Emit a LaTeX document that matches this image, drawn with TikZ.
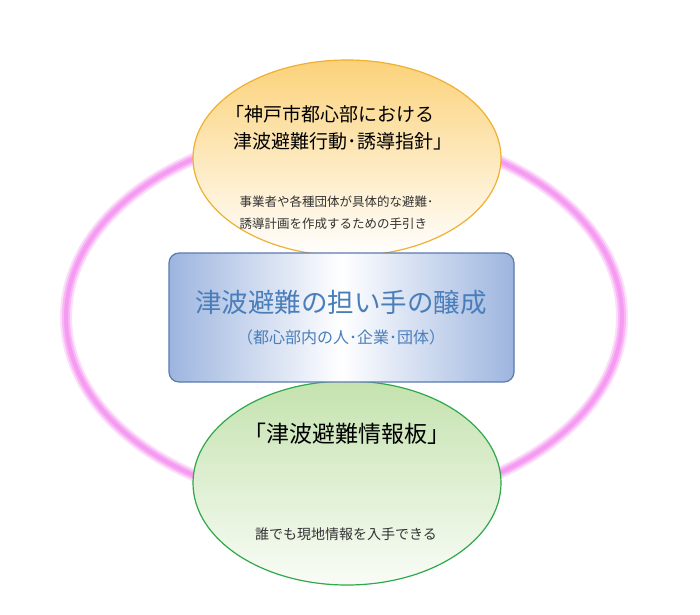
\documentclass[tikz,border=0pt]{standalone}
\usepackage{fontspec}
\setmainfont{Noto Sans CJK JP}
\usetikzlibrary{shapes.geometric}
\definecolor{ringpink}{HTML}{F490F0}
\definecolor{ylw}{HTML}{FBD27A}
\definecolor{ylwline}{HTML}{F0B030}
\definecolor{grn}{HTML}{C4E2AE}
\definecolor{grnline}{HTML}{2EA84A}
\definecolor{blu}{HTML}{9DB5DF}
\definecolor{bluline}{HTML}{5A7AB0}
\definecolor{bluetext}{HTML}{4A7EBB}
\tikzset{
  oval/.style={ellipse, minimum width=308pt, inner sep=0pt, line width=1.2pt},
  ttl/.style={font=\fontsize{19}{27}\selectfont, align=left, anchor=north west},
  sub/.style={font=\fontsize{12.5}{22}\selectfont, text=black!80, align=left, anchor=north west},
}
\begin{document}
\begin{tikzpicture}[x=1pt,y=-1pt]
\useasboundingbox (0,0) rectangle (700,614);
\fill[white] (0,0) rectangle (700,614);
\draw[ringpink!30, line width=12pt] (344,317) ellipse [x radius=278, y radius=188];
\draw[ringpink!65, line width=8pt] (344,317) ellipse [x radius=278, y radius=188];
\draw[ringpink!90, line width=4pt] (344,317) ellipse [x radius=278, y radius=188];
\node[oval, minimum height=196pt, draw=ylwline, top color=ylw, bottom color=white] (top) at (347,158) {};
\node[oval, minimum height=204pt, draw=grnline, top color=grn, bottom color=white!90!grn] (bot) at (347,483) {};
\node[draw=bluline, line width=1.2pt, rounded corners=10pt, minimum width=345pt, minimum height=129pt, inner sep=0pt, left color=blu, right color=blu, middle color=white] (mid) at (341.5,317.5) {};
\node[ttl] (t1) at (222,102) {「神戸市都心部における\\\hspace*{8pt}津波避難行動･誘導指針」};
\node[sub] (t2) at (236,192) {事業者や各種団体が具体的な避難･\\誘導計画を作成するための手引き};
\node[font=\fontsize{26.5}{30}\selectfont, text=bluetext] (m1) at (341,302) {津波避難の担い手の醸成};
\node[font=\fontsize{16}{20}\selectfont, text=bluetext] (m2) at (341,337) {（都心部内の人･企業･団体）};
\node[font=\fontsize{23}{28}\selectfont] (b1) at (347,434) {「津波避難情報板」};
\node[font=\fontsize{14}{18}\selectfont, text=black!80] (b2) at (346,534) {誰でも現地情報を入手できる};
\end{tikzpicture}
\end{document}
